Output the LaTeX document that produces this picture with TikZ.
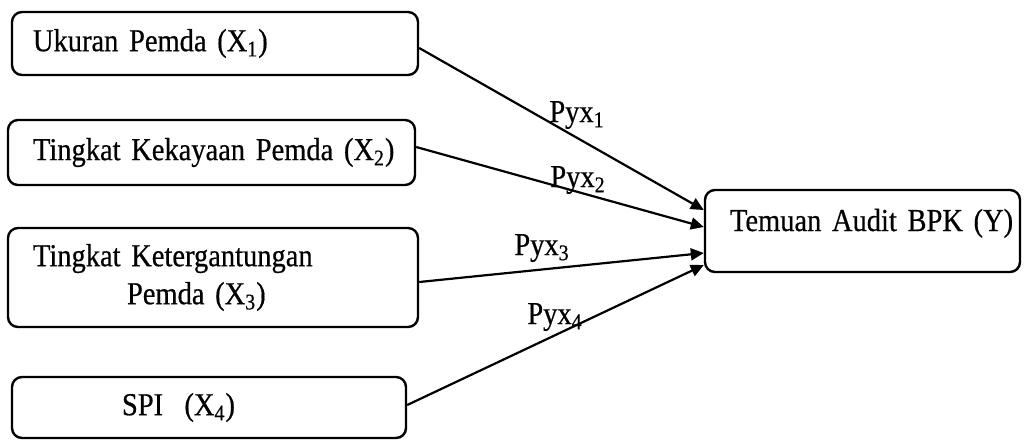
\documentclass[tikz,border=0pt]{standalone}
\usepackage{fontspec}
\setmainfont{Liberation Serif}[FakeStretch=0.89, FakeBold=0.5]
\usetikzlibrary{arrows.meta}
\begin{document}
\begin{tikzpicture}[x=0.5pt,y=-0.5pt,
  box/.style={draw, line width=1.2pt, rounded corners=5pt, inner ysep=0pt, align=left,
    font=\fontsize{16}{19}\selectfont},
  lbl/.style={font=\fontsize{16}{19}\selectfont, inner sep=0pt},
  arr/.style={line width=1.1pt, -{Triangle[length=6.5pt,width=6pt]}}]
\useasboundingbox (0,0) rectangle (1026,441);
\node[box, minimum width=203pt, minimum height=31.5pt, inner xsep=10.5pt, text width=182pt]
  (b1) at (215,43.5) {\mbox{Ukuran Pemda (X\textsubscript{1})}};
\node[box, minimum width=203.5pt, minimum height=32.5pt, inner xsep=12.5pt, text width=178.5pt]
  (b2) at (211.5,152.5) {\mbox{Tingkat Kekayaan Pemda (X\textsubscript{2})}};
\node[box, minimum width=205pt, minimum height=49.5pt, inner xsep=12.5pt, text width=180pt]
  (b3) at (213,277.5) {\mbox{Tingkat Ketergantungan}\\\mbox{\hspace*{47pt}Pemda (X\textsubscript{3})}};
\node[box, minimum width=197pt, minimum height=30.5pt, inner xsep=55pt, text width=87pt]
  (b4) at (209,407.5) {\mbox{SPI\ \ (X\textsubscript{4})}};
\node[box, minimum width=157.5pt, minimum height=41pt, inner xsep=12.5pt, text width=132.5pt,
  text height=0pt, text depth=0pt]
  (y) at (862.5,231) {\mbox{Temuan Audit BPK (Y)}};
\node[lbl] (l1) at (577,115) {Pyx\textsubscript{1}};
\node[lbl] (l2) at (578,180) {Pyx\textsubscript{2}};
\node[lbl] (l3) at (542,248) {Pyx\textsubscript{3}};
\node[lbl] (l4) at (555,317) {Pyx\textsubscript{4}};
\draw[arr] ([yshift=-2.25pt]b1.east) -- ([yshift=10.5pt]y.west);
\draw[arr] ([yshift=2.75pt]b2.east) -- ([yshift=2pt]y.west);
\draw[arr] ([yshift=-2.25pt]b3.east) -- ([yshift=-11pt]y.west);
\draw[arr] ([yshift=1.25pt]b4.east) -- ([yshift=-17pt]y.west);
\end{tikzpicture}
\end{document}
